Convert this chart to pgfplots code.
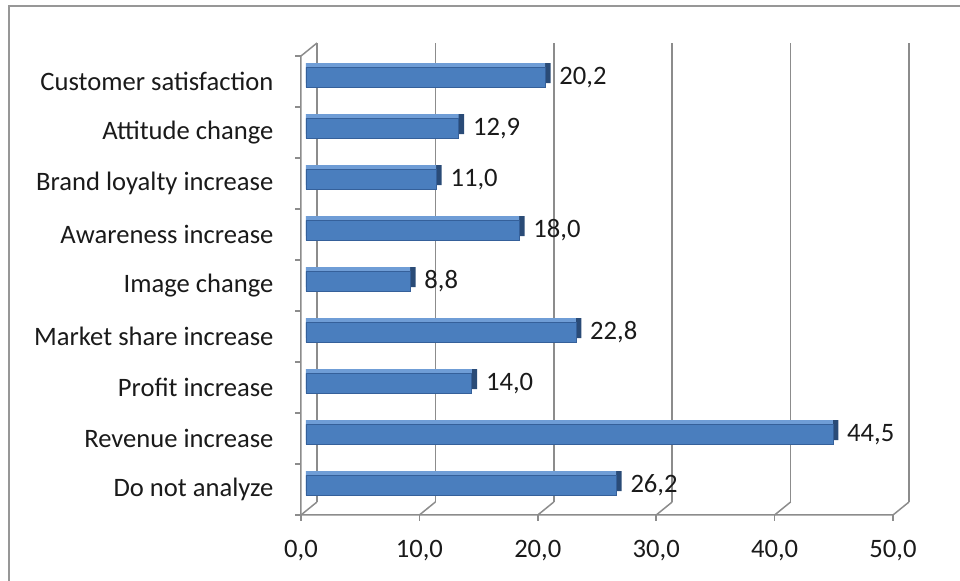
\documentclass[border=0pt]{standalone}
\usepackage{fontspec}
\setmainfont{Carlito}
\usepackage{pgfplots}
\usepackage{pgfplotstable}
\pgfplotsset{compat=1.18}
\definecolor{gridc}{HTML}{8C8C8C}
\definecolor{bartop}{HTML}{6F9DD6}
\definecolor{barmid}{HTML}{4A7EBE}
\definecolor{bardark}{HTML}{2A4B77}
\definecolor{baredge}{HTML}{35609A}
\definecolor{txt}{HTML}{1A1A1A}
\pgfplotstableread{
idx val
0 26.2
1 44.5
2 14.0
3 22.8
4 8.8
5 18.0
6 11.0
7 12.9
8 20.2
}\datatable
\newcommand{\lblfont}{\fontsize{13.3}{15}\selectfont}
\begin{document}
\begin{tikzpicture}[x=1pt,y=1pt]
\useasboundingbox (0,0) rectangle (480,290.5);
\draw[gridc!90, line width=0.9pt] (4.5,0) -- (4.5,287.5) -- (480,287.5);
\begin{axis}[
  at={(150.5pt,33pt)}, anchor=south west,
  scale only axis, width=296pt, height=229.5pt,
  xmin=0, xmax=50, ymin=-0.5, ymax=8.5,
  clip=false,
  axis line style={draw=none},
  tick style={draw=none},
  xtick={0,10,...,50}, ytick={0,...,8},
  yticklabels={Do not analyze, Revenue increase, Profit increase, Market share increase, Image change, Awareness increase, Brand loyalty increase, Attitude change, Customer satisfaction},
  yticklabel style={font=\lblfont, text=txt, xshift=-6pt},
  xticklabel style={font=\lblfont, text=txt, yshift=-9pt},
  /pgf/number format/.cd, fixed, fixed zerofill, precision=1, use comma, assume math mode=true, /pgfplots/.cd,
  xbar, bar width=10pt,
]
% back wall grid lines and floor connectors
\pgfplotsinvokeforeach{0,10,20,30,40,50}{
  \draw[gridc, line width=0.75pt] ([xshift=8pt,yshift=6.5pt]axis cs:#1,-0.5) -- ([xshift=8pt,yshift=6.5pt]axis cs:#1,8.5);
  \draw[gridc, line width=0.75pt] (axis cs:#1,-0.5) -- ([xshift=8pt,yshift=6.5pt]axis cs:#1,-0.5);
  \draw[gridc, line width=0.75pt] (axis cs:#1,-0.5) -- ([yshift=-3pt]axis cs:#1,-0.5);
}
\draw[gridc, line width=0.75pt] (axis cs:50,-0.5) -- (axis cs:0,-0.5) -- (axis cs:0,8.5) -- ([xshift=8pt,yshift=6.5pt]axis cs:0,8.5);
\pgfplotsinvokeforeach{-0.5,0.5,1.5,2.5,3.5,4.5,5.5,6.5,7.5,8.5}{
  \draw[gridc, line width=0.75pt] (axis cs:0,#1) -- ([xshift=-3pt]axis cs:0,#1);
}
% bars: dark depth, top face, front face
\addplot[fill=bardark, draw=none, bar shift=4.2pt, xshift=5.2pt] table[x=val,y=idx] {\datatable};
\addplot[fill=bartop, draw=none, bar shift=4.2pt, xshift=2.5pt] table[x=val,y=idx] {\datatable};
\addplot[fill=barmid, draw=baredge, line width=0.3pt, bar shift=2pt, xshift=2.5pt,
  nodes near coords, nodes near coords align={horizontal},
  every node near coord/.append style={font=\lblfont, text=txt, anchor=west, xshift=5pt, inner sep=2pt}]
  table[x=val,y=idx] {\datatable};
\end{axis}
\end{tikzpicture}
\end{document}
